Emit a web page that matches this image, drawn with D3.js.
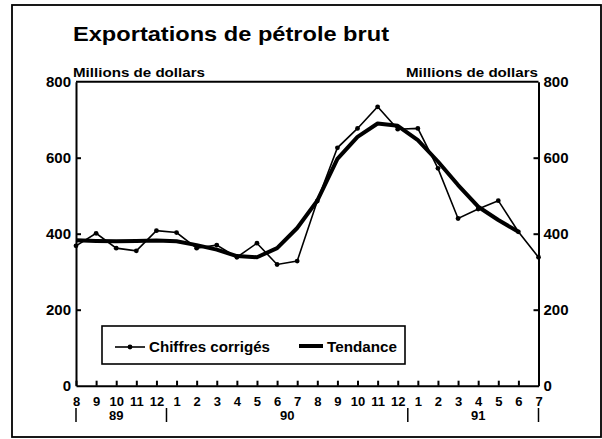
<!DOCTYPE html>
<html>
<head>
<meta charset="utf-8">
<script src="https://cdn.jsdelivr.net/npm/d3@7"></script>
<style>
body { margin: 0; background: #fff; }
svg text { font-family: "Liberation Sans", Arial, sans-serif; font-weight: bold; fill: #000; }
.axis path, .axis line { stroke: #000; stroke-width: 2px; }
.axis text { font-size: 13px; }
.y.axis text { font-size: 15px; }
</style>
</head>
<body>
<div id="chart"></div>
<script>
// mois, aout 1989 a juillet 1991
var months = ["8","9","10","11","12","1","2","3","4","5","6","7","8","9","10","11","12","1","2","3","4","5","6","7"];
var years = ["89", "90", "91"];
var yearCenter = [2, 10.5, 20];        // index du mois sous lequel est l'annee
var yearBreaks = [0, 4.5, 16.5, 23];

// millions de dollars
var chiffres = [368, 401, 362, 355, 408, 403, 362, 370, 338, 375, 319, 328,
                486, 626, 677, 734, 675, 677, 572, 440, 465, 487, 405, 338];
var tendance = [383, 381, 380, 381, 382, 380, 370, 358, 341, 338, 362, 415,
                487, 597, 655, 690, 684, 646, 590, 528, 471, 436, 405];

var yTicks = [0, 200, 400, 600, 800];

var width = 602;
var height = 439;

var svg = d3.select("#chart").append("svg")
	.attr("width", width)
	.attr("height", height);

/* cadre exterieur */
svg.append("rect")
	.attr("x", 12).attr("y", 5)
	.attr("width", 589).attr("height", 432)
	.attr("fill", "none")
	.attr("stroke", "#000")
	.attr("stroke-width", 1.8);

var xScale = d3.scaleLinear()
	.domain([0, months.length - 1])
	.range([76, 538.5]);

var yScale = d3.scaleLinear()
	.domain([0, 800])
	.range([385.7, 81.7]);

svg.append("text")
	.attr("x", 73).attr("y", 41)
	.attr("font-size", 21)
	.attr("textLength", 316)
	.attr("lengthAdjust", "spacingAndGlyphs")
	.text("Exportations de pétrole brut");

svg.append("text")
	.attr("x", 73).attr("y", 77)
	.attr("font-size", 13)
	.attr("textLength", 132)
	.attr("lengthAdjust", "spacingAndGlyphs")
	.text("Millions de dollars");

svg.append("text")
	.attr("x", 538).attr("y", 77)
	.attr("text-anchor", "end")
	.attr("font-size", 13)
	.attr("textLength", 132)
	.attr("lengthAdjust", "spacingAndGlyphs")
	.text("Millions de dollars");

/* ligne du haut du cadre */
svg.append("line")
	.attr("x1", xScale(0)).attr("x2", xScale(months.length - 1))
	.attr("y1", yScale(800)).attr("y2", yScale(800))
	.attr("stroke", "#000")
	.attr("stroke-width", 2);

/* Axes */
var xAxis = d3.axisBottom(xScale)
	.tickValues(d3.range(months.length))
	.tickFormat(i => months[i])
	.tickSizeInner(-5)
	.tickSizeOuter(0)
	.tickPadding(11);

svg.append("g")
	.attr("class", "x axis")
	.attr("transform", `translate(0, ${yScale(0)})`)
	.call(xAxis);

var yAxisLeft = d3.axisLeft(yScale)
	.tickValues(yTicks)
	.tickSizeInner(-5)
	.tickSizeOuter(0)
	.tickPadding(5);

svg.append("g")
	.attr("class", "y axis")
	.attr("transform", `translate(${xScale(0)}, 0)`)
	.call(yAxisLeft);

var yAxisRight = d3.axisRight(yScale)
	.tickValues(yTicks)
	.tickSizeInner(-5)
	.tickSizeOuter(0)
	.tickPadding(5);

svg.append("g")
	.attr("class", "y axis")
	.attr("transform", `translate(${xScale(months.length - 1)}, 0)`)
	.call(yAxisRight);

svg.selectAll(".y.axis .tick line").filter(d => d === 0 || d === 800).remove();

/* annees */
svg.selectAll(".year-break")
	.data(yearBreaks).enter()
	.append("line")
	.attr("class", "year-break")
	.attr("x1", d => xScale(d)).attr("x2", d => xScale(d))
	.attr("y1", 408).attr("y2", 422)
	.attr("stroke", "#000")
	.attr("stroke-width", 1.5);

svg.selectAll(".year")
	.data(years).enter()
	.append("text")
	.attr("class", "year")
	.attr("x", (d, i) => xScale(yearCenter[i]))
	.attr("y", 420)
	.attr("text-anchor", "middle")
	.attr("font-size", 13)
	.text(d => d);

/* Lignes */
var line = d3.line()
	.x((d, i) => xScale(i))
	.y(d => yScale(d));

svg.append("path")
	.attr("d", line(chiffres))
	.attr("fill", "none")
	.attr("stroke", "#000")
	.attr("stroke-width", 1.6);

svg.append("path")
	.attr("d", line(tendance))
	.attr("fill", "none")
	.attr("stroke", "#000")
	.attr("stroke-width", 4)
	.attr("stroke-linejoin", "round");

svg.selectAll(".pt")
	.data(chiffres).enter()
	.append("circle")
	.attr("class", "pt")
	.attr("cx", (d, i) => xScale(i))
	.attr("cy", d => yScale(d))
	.attr("r", 2.4)
	.attr("fill", "#000");

/* Legende */
var legend = svg.append("g");

legend.append("rect")
	.attr("x", 102).attr("y", 326)
	.attr("width", 303).attr("height", 38)
	.attr("fill", "#fff")
	.attr("stroke", "#000")
	.attr("stroke-width", 1.6);

legend.append("line")
	.attr("x1", 115).attr("x2", 145)
	.attr("y1", 347).attr("y2", 347)
	.attr("stroke", "#000").attr("stroke-width", 1.6);

legend.append("circle")
	.attr("cx", 130).attr("cy", 347).attr("r", 2.4);

legend.append("text")
	.attr("x", 149).attr("y", 352)
	.attr("font-size", 15)
	.attr("textLength", 121)
	.attr("lengthAdjust", "spacingAndGlyphs")
	.text("Chiffres corrigés");

legend.append("line")
	.attr("x1", 299).attr("x2", 323)
	.attr("y1", 346).attr("y2", 346)
	.attr("stroke", "#000").attr("stroke-width", 4);

legend.append("text")
	.attr("x", 327).attr("y", 352)
	.attr("font-size", 15)
	.attr("textLength", 70)
	.attr("lengthAdjust", "spacingAndGlyphs")
	.text("Tendance");
</script>
</body>
</html>
